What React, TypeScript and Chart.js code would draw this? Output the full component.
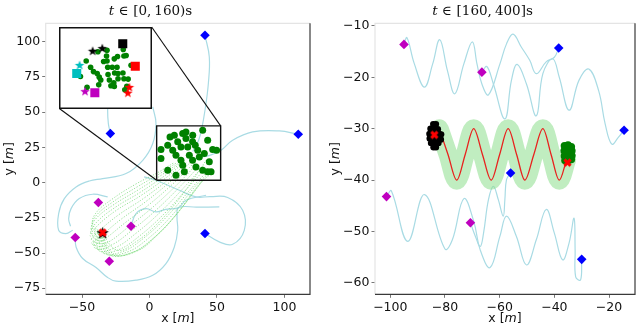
import React, { useEffect, useRef } from 'react';
import { Chart, registerables } from 'chart.js';
Chart.register(...registerables);

// ---------------- LEFT PANEL DATA (t in [0,160) s) ----------------
const leftXTicks = [-50, 0, 50, 100];
const leftYTicks = [-75, -50, -25, 0, 25, 50, 75, 100];
const leftBlueDiamonds = [[41.1, 104.5], [-29, 34.8], [110.2, 34.3], [41.1, -36.2]];
const leftMagentaDiamonds = [[-37.9, -14.2], [-13.7, -31], [-55, -39], [-29.8, -55.9]];
const leftGoal = [[-34.7, -35.5]];

const leftPathA = [[41.1, 104.5], [44.3, 89.1], [43.6, 70.3], [41.1, 51.3], [38.7, 38.3], [36.4, 30], [32, 22]];
const leftPathB = [[-29, 34.8], [-30.5, 42], [-31, 51], [-30.5, 56]];
const leftPathC = [[110.2, 34.3], [96.2, 36.6], [76.4, 35.9], [61.6, 30], [53, 22.9], [45, 19.5], [39.4, 18.2], [30, 16]];
const leftPathD = [[41.1, -36.2], [51.7, -42.1], [61.6, -43.8], [70.2, -33.9], [69, -19.7], [57.9, -10.6], [45, -10], [34.4, -10.2], [22.1, -5.5], [4.8, 1.6], [-4, 4]];
const leftPathE = [[-56.9, -33.9], [-61.9, -36.2], [-67.3, -33.9], [-67.3, -22], [-63.1, -11.4], [-54.4, -3.1], [-44.6, 1.1], [-34.7, 2.8], [-17.4, 6.4], [-5, 15.8], [2.4, 27.7], [4.8, 41.9], [2.4, 53.7]];
const leftPathF = [[-31, -10.2], [-42.1, -8.3], [-52, -11.4], [-58.1, -18.5], [-59.9, -25.6], [-58.5, -31]];
const leftPathG = [[-55, -39], [-54.4, -45.7], [-49.5, -53.9], [-39.6, -60.3], [-31, -67.4], [-24.8, -70], [-10, -69.3], [2.4, -65.8], [12.2, -57.5], [18.4, -45.7], [20.9, -33.9], [20.4, -24.4], [21.6, -17.8], [35, -17.5], [51.7, -17.3]];
const leftPathH = [[-13.7, -31], [-10, -22], [-2.6, -18.5], [4.8, -20.8], [12, -19], [21.6, -17.8], [27, -12.6], [41.9, -9]];

const fan1 = [[-36, -35], [-42, -30], [-40, -22], [-28, -12], [-10, -1], [6, 7], [18, 14]];
const fan2 = [[-36, -35], [-43, -34], [-40, -26], [-27, -16], [-8, -5], [10, 6], [22, 14]];
const fan3 = [[-36, -35], [-44, -38], [-39, -31], [-25, -20], [-6, -9], [13, 4], [26, 15]];
const fan4 = [[-36, -35], [-43, -43], [-35, -37], [-21, -26], [-2, -13], [17, 2], [30, 14]];
const fan5 = [[-36, -35], [-41, -46], [-30, -42], [-15, -31], [3, -17], [22, 0], [35, 13]];
const fan6 = [[-36, -35], [-38, -48], [-25, -46], [-10, -36], [8, -21], [27, -2], [40, 12]];
const fan7 = [[-36, -35], [-34, -50], [-20, -49], [-5, -40], [13, -24], [32, -3], [44, 9]];
const fan8 = [[-36, -35], [-30, -51], [-14, -50], [1, -41], [18, -25], [37, -1], [48, 8]];
const fan9 = [[-36, -35], [-26, -51], [-8, -48], [6, -37], [22, -20], [40, 2]];
const fan10 = [[-36, -35], [-24, -48], [-10, -42], [5, -30], [20, -14], [33, 3], [42, 16]];
const fan11 = [[-36, -35], [-42.5, -32], [-40, -24], [-27.5, -14], [-9, -3], [8, 6.5], [20, 14]];
const fan12 = [[-36, -35], [-43.5, -36], [-39.5, -28.5], [-26, -18], [-7, -7], [11.5, 5], [24, 14.5]];
const fan13 = [[-36, -35], [-43.5, -40.5], [-37, -34], [-23, -23], [-4, -11], [15, 3], [28, 14.5]];
const fan14 = [[-36, -35], [-42, -44.5], [-32.5, -39.5], [-18, -28.5], [0.5, -15], [19.5, 1], [32.5, 13.5]];
const fan15 = [[-36, -35], [-39.5, -47], [-27.5, -44], [-12.5, -33.5], [5.5, -19], [24.5, -1], [37.5, 12.5]];
const fan16 = [[-36, -35], [-36, -49], [-22.5, -47.5], [-7.5, -38], [10.5, -22.5], [29.5, -2.5], [42, 10.5]];
const fan17 = [[-36, -35], [-32, -50.5], [-17, -49.5], [-2, -40.5], [15.5, -24.5], [34.5, -2], [46, 8.5]];
const fan18 = [[-36, -35], [-28, -51], [-11, -49], [3.5, -39], [20, -22.5], [38.5, 0.5]];

const zoomBox = [[5.3, 1.6], [52.7, 1.6], [52.7, 40.2], [5.3, 40.2], [5.3, 1.6]];
const connectorLow = [[-66.8, 52.5], [5.3, 1.6]];
const connectorHigh = [[1.6, 110.4], [52.7, 40.2]];

const boxDots = [
  [18.4, 33.5], [24.6, 34.8], [27, 31.2], [20.9, 28.9], [13.5, 26.5], [8.5, 23.4], [17.2, 22.9], [19.6, 19.4],
  [23.3, 15.8], [31.9, 28.9], [35.7, 22.9], [39.4, 37.1], [43.1, 30], [46.8, 23.4], [49.7, 22.9], [40.6, 20.6],
  [44.3, 14.7], [43.1, 7.6], [31.9, 15.8], [34.4, 11.1], [25.8, 7.6], [19.6, 5.2], [13.5, 8.7], [8.5, 17],
  [36.9, 18.2], [29.5, 19.4], [28.3, 25.3], [33.9, 26.5], [23.3, 25.3], [39.4, 8.7], [24.6, 12.3], [32, 33.5],
  [27, 35.9], [15.2, 32.4], [45.6, 7.6],
];

// ---------------- INSET DATA (zoom of the box) ----------------
const insetDots = [
  [17.6, 24.8], [24.5, 30], [29.9, 30.8], [29.6, 27.6], [36.1, 27.3], [34.2, 26], [39.9, 27.6], [41.2, 27.9],
  [44.1, 22.4], [20.2, 21.3], [21.9, 18.9], [14.2, 16.2], [24.1, 17.8], [25.3, 15.8], [26.2, 14.2], [25, 11.5],
  [30.3, 21.3], [30.5, 17.3], [31.3, 14.2], [32.2, 11], [34.2, 10.6], [33, 21.3], [35.8, 21.3], [34.4, 18.1],
  [36.4, 17.8], [39.3, 18.1], [39.9, 14.9], [42.4, 14.7], [40.4, 8.7], [18.1, 10.2], [41.6, 10.7], [27.9, 24.5],
  [29.9, 24.8], [36.4, 14.9], [33.9, 12.6], [39.5, 31.2],
];
const insetBlackStars = [[21.4, 30.5], [27.1, 32]];
const insetBlackSquare = [[39.2, 34.4]];
const insetCyanStar = [[13.7, 22.6]];
const insetCyanSquare = [[12, 17.8]];
const insetRedSquare = [[46.6, 21.9]];
const insetRedStars = [[43.1, 10.3], [42.2, 7.1]];
const insetMagentaStar = [[16.9, 8]];
const insetMagentaSquare = [[22.7, 7.1]];

// ---------------- RIGHT PANEL DATA (t in [160,400] s) ----------------
const rightXTicks = [-100, -80, -60, -40, -20];
const rightYTicks = [-60, -50, -40, -30, -20, -10];
const rightBlueDiamonds = [[-38.4, -14.3], [-14.5, -30.3], [-56, -38.6], [-30, -55.4]];
const rightMagentaDiamonds = [[-95, -13.6], [-66.5, -19], [-101.4, -43.2], [-70.7, -48.3]];
const rightRedX = [[-83.9, -31.2], [-35.2, -36.6]];

const topPath1 = [[-95, -13.6], [-93.9, -12.3], [-91.2, -17.4], [-87.5, -21.9], [-84.5, -17.4], [-81.9, -12.7], [-79.1, -18.7], [-76.4, -23.2], [-73.1, -17.4], [-70, -13.1], [-68.3, -17.4], [-66.5, -21.3], [-64.1, -23.4], [-59.9, -17.4], [-57.5, -13.5], [-55.1, -11.6], [-52.1, -14.1], [-49, -16.7], [-46.6, -19.3], [-43, -17], [-40, -16.1], [-38.4, -14.3]];
const topPath2 = [[-66.5, -19], [-64.7, -17.9], [-62.3, -21.3], [-58.1, -28.1], [-55.7, -20.6], [-53.6, -17.5], [-50.2, -21.3], [-46.6, -27.5], [-44.2, -19.3], [-40.6, -16.4], [-38.2, -20], [-34.6, -26.4], [-31, -20.6], [-27.4, -18.4], [-23.8, -22.6], [-21.4, -29.1], [-19, -33], [-16.6, -31.7], [-14.5, -30.3]];
const bottomPath1 = [[-101.4, -43.2], [-99.6, -42.1], [-93.6, -51.9], [-87.5, -42.8], [-80, -53.4], [-77.3, -51.6], [-73.1, -43.6], [-69.5, -48], [-67.1, -53.6], [-63.5, -57], [-59.9, -50.9], [-57.5, -47], [-53.9, -50.9], [-50.2, -56.5], [-46.6, -51.6], [-43, -45.7], [-40, -50.3], [-37, -55.5], [-34.6, -52.2], [-32.8, -47.4], [-32.4, -53.6], [-32.2, -58.8], [-30.4, -59.4], [-30, -55.4]];
const bottomPath2 = [[-70.7, -48.3], [-68.9, -50.9], [-67.1, -52.9], [-65.9, -50.3], [-64.1, -43.8], [-62.3, -41.2], [-60.5, -43.8], [-58.7, -47], [-58.1, -43.8], [-57.5, -39.9], [-56, -38.6]];

const referenceWave = [[-82.1, -30], [-78.9, -35], [-75.7, -40], [-72.6, -35], [-69.5, -30], [-66.3, -35], [-63.1, -40], [-60, -35], [-56.9, -30], [-53.8, -35], [-50.8, -40], [-47.5, -35], [-44.2, -30], [-41.2, -35], [-38.2, -40], [-35.5, -36]];

const blackCluster = [
  [-84.3, -29.1], [-83.3, -29.1],
  [-85.3, -30], [-84.4, -30], [-83.5, -30], [-82.6, -30.1],
  [-85.7, -31], [-84.8, -31], [-83.9, -31], [-83, -31], [-82.1, -31], [-81.4, -31.1],
  [-85.6, -31.9], [-84.7, -31.9], [-83.8, -31.9], [-82.9, -31.9], [-82, -31.9], [-81.5, -32.1],
  [-85.1, -32.8], [-84.2, -32.8], [-83.3, -32.8], [-82.4, -32.8],
  [-84.2, -33.6], [-83.3, -33.6],
];
const greenCluster = [
  [-36.3, -33.3], [-35, -33.2], [-33.8, -33.5], [-36.4, -34.3], [-35, -34.3], [-33.6, -34.3],
  [-36.3, -35.3], [-35, -35.3], [-33.6, -35.2], [-36.1, -36.2], [-34.9, -36.2], [-33.8, -36],
];

// ---------------- helpers ----------------
type P = { x: number; y: number };
const pts = (a: number[][]): P[] => a.map(([x, y]) => ({ x, y }));

const CYAN_TRAJ = '#a9dbe4';
const GREEN = '#008000';
const BLUE = '#0000ff';
const MAGENTA = '#bf00bf';
const CYAN = '#00bfbf';
const RED = '#ff0000';

function starCanvas(color: string, size: number) {
  const c = document.createElement('canvas');
  c.width = size + 2;
  c.height = size + 2;
  const ctx = c.getContext('2d')!;
  const cx = c.width / 2, cy = c.height / 2 + size * 0.05;
  const R = size / 2, r = R * 0.42;
  ctx.beginPath();
  for (let i = 0; i < 10; i++) {
    const a = -Math.PI / 2 + (i * Math.PI) / 5;
    const rad = i % 2 === 0 ? R : r;
    const px = cx + Math.cos(a) * rad, py = cy + Math.sin(a) * rad;
    if (i === 0) ctx.moveTo(px, py); else ctx.lineTo(px, py);
  }
  ctx.closePath();
  ctx.fillStyle = color;
  ctx.fill();
  return c;
}

function xCanvas(color: string, size: number) {
  const c = document.createElement('canvas');
  c.width = size + 2;
  c.height = size + 2;
  const ctx = c.getContext('2d')!;
  const m = 1 + size * 0.16, e = c.width - m;
  ctx.strokeStyle = color;
  ctx.lineWidth = size * 0.34;
  ctx.lineCap = 'butt';
  ctx.beginPath();
  ctx.moveTo(m, m); ctx.lineTo(e, e);
  ctx.moveTo(e, m); ctx.lineTo(m, e);
  ctx.stroke();
  return c;
}

const line = (data: number[][], color: string, width: number, extra: any = {}) => ({
  data: pts(data), showLine: true, borderColor: color, borderWidth: width, pointRadius: 0,
  tension: 0.4, fill: false, ...extra,
});
const marks = (data: number[][], style: any, radius: number, color: string, extra: any = {}) => ({
  data: pts(data), showLine: false, pointStyle: style, pointRadius: radius,
  backgroundColor: color, borderColor: color, borderWidth: 0, ...extra,
});
const ordered = (ds: any[]) => ds.map((d, i) => ({ ...d, order: ds.length - i }));

const fmt = (v: number) => (v < 0 ? '\u2212' + Math.abs(v) : String(v));

function axis(min: number, max: number, ticks: number[], size: number, horizontal: boolean) {
  return {
    type: 'linear', min, max,
    afterBuildTicks: (s: any) => { s.ticks = ticks.map((v) => ({ value: v })); },
    afterFit: (s: any) => { if (horizontal) s.height = size; else s.width = size; },
    grid: { drawOnChartArea: false, drawTicks: true, tickLength: 3.5, color: '#777', lineWidth: 1 },
    border: { display: false },
    ticks: {
      font: { family: 'DejaVu Sans', size: 12.5 }, color: '#111', padding: 2,
      maxRotation: 0, minRotation: 0, autoSkip: false, callback: (v: any) => fmt(Number(v)),
    },
  };
}

type Piece = { t: string; f: string; gap?: number };
function piecesWidth(ctx: CanvasRenderingContext2D, ps: Piece[]) {
  let w = 0;
  for (const p of ps) { ctx.font = p.f; w += (p.gap || 0) + ctx.measureText(p.t).width; }
  return w;
}
function drawPieces(ctx: CanvasRenderingContext2D, ps: Piece[], cx: number, y: number) {
  let x = cx - piecesWidth(ctx, ps) / 2;
  for (const p of ps) {
    ctx.font = p.f;
    x += p.gap || 0;
    ctx.fillText(p.t, x, y);
    x += ctx.measureText(p.t).width;
  }
}

const SERIF = '13.5px "DejaVu Serif"';
const SERIF_I = 'italic 13.5px "DejaVu Serif"';
const SANS = '12.5px "DejaVu Sans"';
const SANS_I = 'italic 12.5px "DejaVu Sans"';

function decorPlugin(title: Piece[], titleCx: number, yLabelX: number) {
  return {
    id: 'decor',
    afterDraw(chart: any) {
      const { ctx, chartArea: a } = chart;
      ctx.save();
      ctx.lineWidth = 1.2;
      ctx.strokeStyle = '#e4e4e4';
      ctx.beginPath();
      ctx.moveTo(a.left, a.bottom); ctx.lineTo(a.left, a.top); ctx.lineTo(a.right, a.top);
      ctx.stroke();
      ctx.strokeStyle = '#3a3a3a';
      ctx.beginPath();
      ctx.moveTo(a.right, a.top); ctx.lineTo(a.right, a.bottom); ctx.lineTo(a.left, a.bottom);
      ctx.stroke();

      ctx.fillStyle = '#111';
      ctx.textBaseline = 'alphabetic';
      ctx.textAlign = 'left';
      drawPieces(ctx, title, titleCx, 14.5);

      const lab: Piece[] = [{ t: 'x [', f: SANS }, { t: 'm', f: SANS_I }, { t: ']', f: SANS }];
      drawPieces(ctx, lab, (a.left + a.right) / 2, 321.5);
      ctx.translate(yLabelX, (a.top + a.bottom) / 2);
      ctx.rotate(-Math.PI / 2);
      ctx.textBaseline = 'middle';
      const ylab: Piece[] = [{ t: 'y [', f: SANS }, { t: 'm', f: SANS_I }, { t: ']', f: SANS }];
      drawPieces(ctx, ylab, 0, 0);
      ctx.restore();
    },
  };
}

const baseOptions = (scales: any, padding: any) => ({
  responsive: false,
  maintainAspectRatio: false,
  animation: false as const,
  events: [] as any[],
  layout: { padding },
  plugins: { legend: { display: false }, tooltip: { enabled: false } },
  scales,
});

function leftConfig(): any {
  const fanStyle = { borderDash: [1.2, 1.6], tension: 0.4 };
  const fanColor = 'rgba(110,215,110,0.9)';
  const fans = [fan1, fan2, fan3, fan4, fan5, fan6, fan7, fan8, fan9, fan10, fan11, fan12, fan13, fan14, fan15, fan16, fan17, fan18];
  const datasets = ordered([
    line(leftPathA, CYAN_TRAJ, 1.2),
    line(leftPathB, CYAN_TRAJ, 1.2),
    line(leftPathC, CYAN_TRAJ, 1.2),
    line(leftPathD, CYAN_TRAJ, 1.2),
    line(leftPathE, CYAN_TRAJ, 1.2),
    line(leftPathF, CYAN_TRAJ, 1.2),
    line(leftPathG, CYAN_TRAJ, 1.2),
    line(leftPathH, CYAN_TRAJ, 1.2),
    ...fans.map((f) => line(f, fanColor, 0.8, fanStyle)),
    line(connectorLow, '#111', 1.1, { tension: 0 }),
    line(connectorHigh, '#111', 1.1, { tension: 0 }),
    line(zoomBox, '#111', 1.4, { tension: 0 }),
    marks(boxDots, 'circle', 3.5, GREEN),
    marks(leftBlueDiamonds, 'rectRot', 4.8, BLUE),
    marks(leftMagentaDiamonds, 'rectRot', 4.8, MAGENTA),
    marks(leftGoal, starCanvas('#000', 13), 5, '#000'),
    marks(leftGoal, xCanvas(RED, 9), 5, RED),
  ]);
  const title: Piece[] = [
    { t: 't', f: SERIF_I }, { t: '\u2208', f: SERIF, gap: 4.5 },
    { t: '[0,', f: SERIF, gap: 4.5 }, { t: '160)s', f: SERIF, gap: 3 },
  ];
  return {
    type: 'scatter',
    data: { datasets },
    options: baseOptions(
      { x: axis(-76.9, 118.9, leftXTicks, 30.7, true), y: axis(-79.3, 113, leftYTicks, 45.7, false) },
      { top: 23.3, right: 10, left: 0, bottom: 0 },
    ),
    plugins: [decorPlugin(title, 150.5, 10)],
  };
}

function insetConfig(): any {
  const datasets = ordered([
    marks(insetDots, 'circle', 2.8, GREEN),
    marks(insetBlackStars, starCanvas('#000', 10), 4, '#000'),
    marks(insetBlackSquare, 'rect', 6.4, '#000'),
    marks(insetCyanStar, starCanvas(CYAN, 10), 4, CYAN),
    marks(insetCyanSquare, 'rect', 6.4, CYAN),
    marks(insetRedSquare, 'rect', 6.4, RED),
    marks(insetRedStars, starCanvas(RED, 10), 4, RED),
    marks(insetMagentaStar, starCanvas(MAGENTA, 10), 4, MAGENTA),
    marks(insetMagentaSquare, 'rect', 6.4, MAGENTA),
  ]);
  return {
    type: 'scatter',
    data: { datasets },
    options: {
      ...baseOptions(
        {
          x: { type: 'linear', min: 5.3, max: 52.7, display: false },
          y: { type: 'linear', min: 1.6, max: 40.2, display: false },
        },
        0,
      ),
    },
    plugins: [{
      id: 'insetFrame',
      beforeDraw(chart: any) {
        const { ctx, width, height } = chart;
        ctx.save();
        ctx.fillStyle = '#fff';
        ctx.fillRect(0, 0, width, height);
        ctx.restore();
      },
      afterDraw(chart: any) {
        const { ctx, width, height } = chart;
        ctx.save();
        ctx.strokeStyle = '#111';
        ctx.lineWidth = 1.5;
        ctx.strokeRect(0.75, 0.75, width - 1.5, height - 1.5);
        ctx.restore();
      },
    }],
  };
}

function rightConfig(): any {
  const datasets = ordered([
    line(topPath1, CYAN_TRAJ, 1.2),
    line(topPath2, CYAN_TRAJ, 1.2),
    line(bottomPath1, CYAN_TRAJ, 1.2),
    line(bottomPath2, CYAN_TRAJ, 1.2),
    line(referenceWave, 'rgba(140,222,140,0.55)', 19, {
      cubicInterpolationMode: 'monotone', borderCapStyle: 'round', borderJoinStyle: 'round',
    }),
    line(referenceWave, '#e8221e', 1.3, { cubicInterpolationMode: 'monotone' }),
    marks(blackCluster, 'circle', 3.2, '#000'),
    marks(greenCluster, 'circle', 3.8, GREEN),
    marks(rightRedX, xCanvas(RED, 9), 5, RED),
    marks(rightBlueDiamonds, 'rectRot', 4.8, BLUE),
    marks(rightMagentaDiamonds, 'rectRot', 4.8, MAGENTA),
  ]);
  const title: Piece[] = [
    { t: 't', f: SERIF_I }, { t: '\u2208', f: SERIF, gap: 4.5 },
    { t: '[160,', f: SERIF, gap: 4.5 }, { t: '400]s', f: SERIF, gap: 3 },
  ];
  return {
    type: 'scatter',
    data: { datasets },
    options: baseOptions(
      { x: axis(-105.6, -10.5, rightXTicks, 30.7, true), y: axis(-62.2, -9.5, rightYTicks, 55, false) },
      { top: 23.3, right: 1.7, left: 0, bottom: 0 },
    ),
    plugins: [decorPlugin(title, 162.5, 15.5)],
  };
}

export default function App() {
  const leftRef = useRef<HTMLCanvasElement>(null);
  const rightRef = useRef<HTMLCanvasElement>(null);
  const insetRef = useRef<HTMLCanvasElement>(null);
  useEffect(() => {
    const charts = [
      new Chart(leftRef.current!, leftConfig()),
      new Chart(rightRef.current!, rightConfig()),
      new Chart(insetRef.current!, insetConfig()),
    ];
    return () => charts.forEach((c) => c.destroy());
  }, []);
  return (
    <div style={{ position: 'fixed', left: 0, top: 0, width: 640, height: 325, background: '#fff', overflow: 'hidden' }}>
      <canvas ref={leftRef} width={320} height={325} style={{ position: 'absolute', left: 0, top: 0 }} />
      <canvas ref={rightRef} width={320} height={325} style={{ position: 'absolute', left: 320, top: 0 }} />
      <canvas ref={insetRef} width={93} height={82} style={{ position: 'absolute', left: 59, top: 27 }} />
    </div>
  );
}
